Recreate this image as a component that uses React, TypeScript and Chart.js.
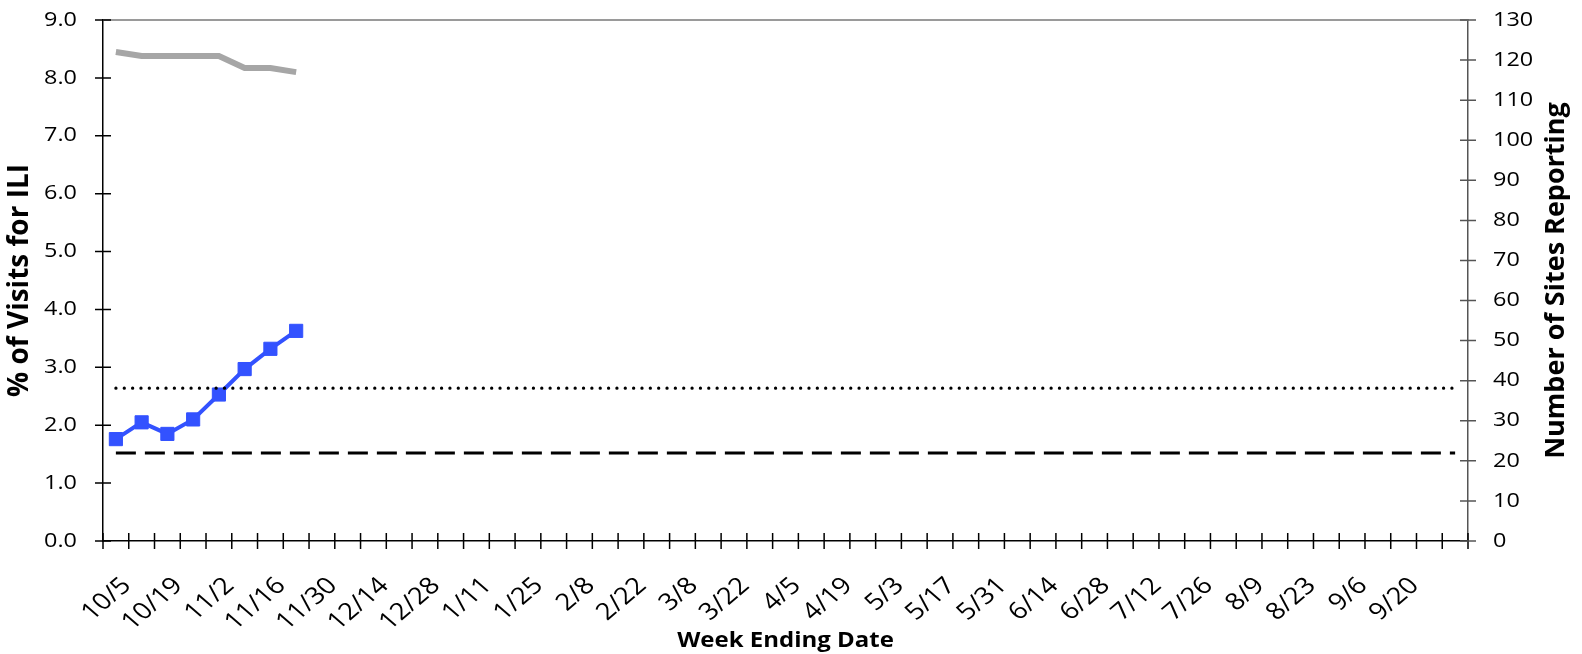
import React, { useEffect, useRef } from 'react';
import { Chart, registerables } from 'chart.js';

Chart.register(...registerables);

// Week ending dates (53 category slots, last one unlabeled)
const weekLabels = [
  '10/5', '10/12', '10/19', '10/26', '11/2', '11/9', '11/16', '11/23', '11/30',
  '12/7', '12/14', '12/21', '12/28', '1/4', '1/11', '1/18', '1/25', '2/1', '2/8',
  '2/15', '2/22', '3/1', '3/8', '3/15', '3/22', '3/29', '4/5', '4/12', '4/19',
  '4/26', '5/3', '5/10', '5/17', '5/24', '5/31', '6/7', '6/14', '6/21', '6/28',
  '7/5', '7/12', '7/19', '7/26', '8/2', '8/9', '8/16', '8/23', '8/30', '9/6',
  '9/13', '9/20', '9/27', '',
];

// % of visits for ILI (left axis)
const iliPercent = [1.76, 2.05, 1.85, 2.1, 2.53, 2.97, 3.32, 3.63];
// Number of sites reporting (right axis)
const sitesReporting = [122, 121, 121, 121, 121, 118, 118, 117];
// Horizontal reference levels (left axis)
const epidemicThreshold = 2.64; // dotted
const seasonalBaseline = 1.52; // dashed

const leftAxisRange = [0, 9];
const rightAxisRange = [0, 130];

const leftTitle = '% of Visits for ILI';
const rightTitle = 'Number of Sites Reporting';
const bottomTitle = 'Week Ending Date';

const FONT = "'Open Sans', 'DejaVu Sans', sans-serif";
const TEXT_STRETCH = 1.17;
const PLOT_TOP = 20;

let plainFillText: any = null;

function patchContext(ctx: any) {
  if (ctx.__patched) return;
  const orig = ctx.fillText;
  plainFillText = (c: any, t: string, x: number, y: number) => orig.call(c, t, x, y);
  ctx.fillText = function (text: string, x: number, y: number, maxWidth?: number) {
    const m = this.getTransform();
    const px = m.a * x + m.c * y + m.e;
    this.save();
    const s = new DOMMatrix().translate(px, 0).scale(TEXT_STRETCH, 1).translate(-px, 0).multiply(m);
    this.setTransform(s);
    if (maxWidth === undefined) orig.call(this, text, x, y);
    else orig.call(this, text, x, y, maxWidth);
    this.restore();
  };
  ctx.__patched = true;
}

const frameAndTitles = {
  id: 'frameAndTitles',
  afterLayout(chart: any) {
    const ca = chart.chartArea;
    ca.top = PLOT_TOP;
    ca.height = ca.bottom - PLOT_TOP;
    ['y', 'y1'].forEach((id) => {
      const s = chart.scales[id];
      s.top = PLOT_TOP;
      s.height = s.bottom - PLOT_TOP;
      s.configure();
    });
  },
  afterDraw(chart: any) {
    const { ctx, chartArea } = chart;
    const { left, right, top, bottom } = chartArea;
    const x = chart.scales.x;
    const y = chart.scales.y;
    const y1 = chart.scales.y1;
    ctx.save();
    // top frame line
    ctx.strokeStyle = '#9a9a9a';
    ctx.lineWidth = 2;
    ctx.beginPath();
    ctx.moveTo(left, top);
    ctx.lineTo(right, top);
    ctx.stroke();

    ctx.lineWidth = 1.5;
    ctx.strokeStyle = '#000';
    ctx.beginPath();
    y.ticks.forEach((_t: any, i: number) => {
      const py = y.getPixelForTick(i);
      ctx.moveTo(left - 8, py);
      ctx.lineTo(left + 8, py);
    });
    const n = x.getLabels().length;
    const step = (right - left) / n;
    for (let i = 0; i <= n; i++) {
      const px = left + i * step;
      ctx.moveTo(px, bottom - 8);
      ctx.lineTo(px, bottom + 8);
    }
    ctx.stroke();

    ctx.strokeStyle = '#555';
    ctx.beginPath();
    y1.ticks.forEach((_t: any, i: number) => {
      const py = y1.getPixelForTick(i);
      ctx.moveTo(right - 8, py);
      ctx.lineTo(right + 8, py);
    });
    ctx.stroke();

    // axis titles reading bottom-to-top
    const draw = (t: string, cx: number, size: number) => {
      ctx.save();
      ctx.fillStyle = '#000';
      ctx.font = `bold ${size}px ${FONT}`;
      ctx.textAlign = 'center';
      ctx.textBaseline = 'middle';
      ctx.translate(cx, (top + bottom) / 2);
      ctx.rotate(-Math.PI / 2);
      if (plainFillText) plainFillText(ctx, t, 0, 0);
      else ctx.fillText(t, 0, 0);
      ctx.restore();
    };
    draw(leftTitle, 20, 28);
    draw(rightTitle, 1556, 27);
    ctx.restore();
  },
};

export default function App() {
  const ref = useRef<HTMLCanvasElement>(null);
  useEffect(() => {
    if (!ref.current) return;
    const ctx2d = ref.current.getContext('2d');
    patchContext(ctx2d);
    const last = weekLabels.length - 1;
    const chart = new Chart(ref.current, {
      type: 'line',
      data: {
        labels: weekLabels,
        datasets: [
          {
            label: 'Sites Reporting',
            data: sitesReporting,
            yAxisID: 'y1',
            borderColor: '#a6a6a6',
            borderWidth: 6,
            pointRadius: 0,
            tension: 0,
          },
          {
            label: 'Epidemic Threshold',
            data: [
              { x: 0, y: epidemicThreshold },
              { x: last, y: epidemicThreshold },
            ],
            parsing: false,
            yAxisID: 'y',
            borderColor: '#000',
            borderWidth: 3.2,
            borderDash: [0.1, 8.25],
            borderCapStyle: 'round',
            pointRadius: 0,
          },
          {
            label: 'Baseline',
            data: [
              { x: 0, y: seasonalBaseline },
              { x: last, y: seasonalBaseline },
            ],
            parsing: false,
            yAxisID: 'y',
            borderColor: '#000',
            borderWidth: 3.2,
            borderDash: [20, 9],
            pointRadius: 0,
          },
          {
            label: '% ILI',
            data: iliPercent,
            yAxisID: 'y',
            borderColor: '#3352ff',
            backgroundColor: '#3352ff',
            borderWidth: 4,
            pointStyle: 'rect',
            pointRadius: 9.3,
            pointBorderWidth: 1,
            tension: 0,
          },
        ] as any,
      },
      options: {
        responsive: false,
        animation: false,
        layout: { padding: { top: 13, left: 0, right: 0, bottom: 0 } },
        plugins: { legend: { display: false }, tooltip: { enabled: false } },
        scales: {
          x: {
            type: 'category',
            offset: true,
            grid: { display: false, drawTicks: false },
            border: { display: true, color: '#000', width: 1.5 },
            ticks: {
              autoSkip: false,
              minRotation: 45,
              maxRotation: 45,
              padding: 31,
              labelOffset: 11,
              color: '#000',
              font: { family: FONT, size: 23.5 },
              callback: (_v: any, i: number) => (i % 2 === 0 ? weekLabels[i] : ''),
            },
            title: {
              display: true,
              text: bottomTitle,
              color: '#000',
              font: { family: FONT, size: 20.5, weight: 'bold' },
              padding: { top: 0, bottom: 1 },
            },
            afterFit: (s: any) => {
              s.height = 113;
            },
          },
          y: {
            position: 'left',
            min: leftAxisRange[0],
            max: leftAxisRange[1],
            grid: { display: false, drawTicks: false },
            border: { display: true, color: '#000', width: 1.5 },
            ticks: {
              stepSize: 1,
              padding: 26,
              color: '#000',
              font: { family: FONT, size: 20 },
              callback: (v: any) => Number(v).toFixed(1),
            },
            afterFit: (s: any) => {
              s.width = 103;
              s.paddingTop = 0;
              s.paddingBottom = 0;
            },
          },
          y1: {
            position: 'right',
            min: rightAxisRange[0],
            max: rightAxisRange[1],
            grid: { display: false, drawTicks: false },
            border: { display: true, color: '#555', width: 1.5 },
            ticks: {
              stepSize: 10,
              padding: 25,
              color: '#000',
              font: { family: FONT, size: 20 },
            },
            afterFit: (s: any) => {
              s.width = 114;
              s.paddingTop = 0;
              s.paddingBottom = 0;
            },
          },
        },
      } as any,
      plugins: [frameAndTitles],
    });
    return () => chart.destroy();
  }, []);
  return (
    <div style={{ position: 'fixed', left: 0, top: 0, width: 1582, height: 654, background: '#fff' }}>
      <canvas ref={ref} width={1582} height={654} />
    </div>
  );
}
